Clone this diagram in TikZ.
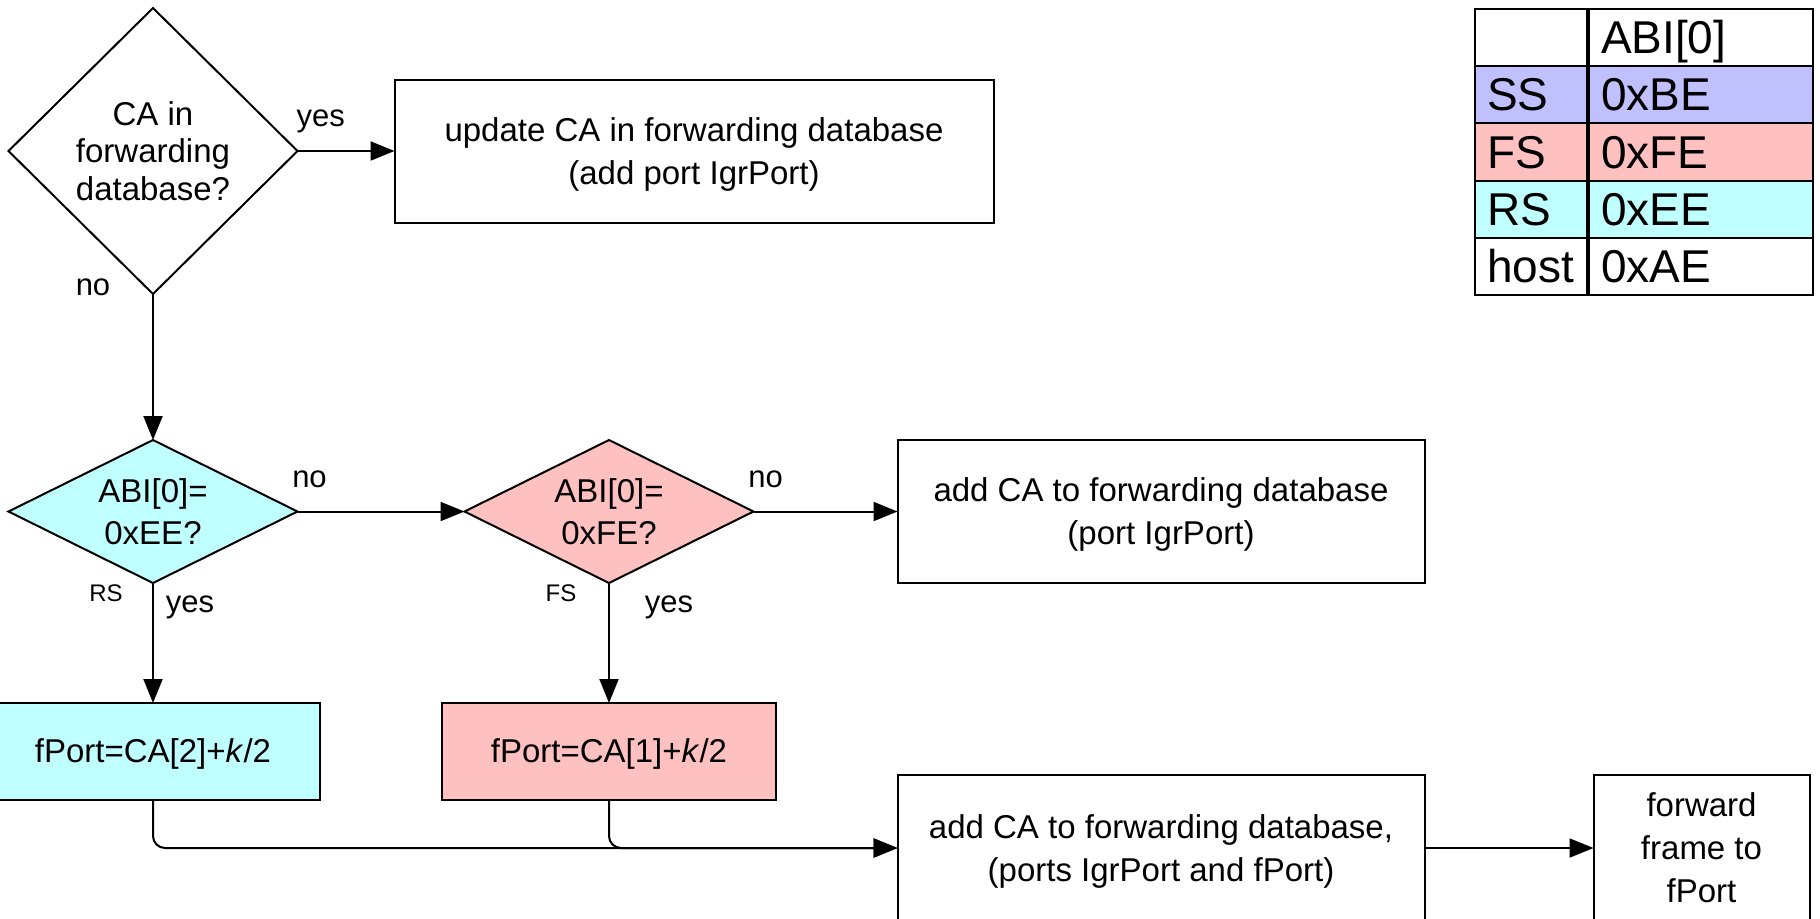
\documentclass[tikz,border=0pt]{standalone}
\usepackage{fontspec}
\setmainfont{Liberation Sans}
\usetikzlibrary{positioning,shapes.geometric,arrows.meta}
\definecolor{ssfill}{RGB}{192,192,255}
\definecolor{fsfill}{RGB}{255,192,192}
\definecolor{rsfill}{RGB}{192,255,255}

\begin{document}
\begin{tikzpicture}[
  x=0.5pt, y=-0.5pt,
  box/.style={draw, line width=1pt, align=center, inner sep=0pt, outer sep=0pt, minimum height=71.5pt, text depth=-2.5pt, font=\fontsize{16.5}{21.5}\selectfont},
  dec/.style={draw, diamond, aspect=2, line width=1pt, align=center, inner sep=0pt, outer sep=0pt, minimum width=144.5pt, minimum height=71.5pt, font=\fontsize{16.5}{21}\selectfont},
  lbl/.style={inner sep=0pt, font=\fontsize{15.5}{18}\selectfont},
  tag/.style={inner sep=0pt, font=\fontsize{12}{14}\selectfont},
  cell/.style={draw, line width=1pt, align=left, inner xsep=6pt, inner ysep=0pt, minimum height=28.6pt, text height=18pt, text depth=2pt, font=\fontsize{23}{26}\selectfont},
  arr/.style={-{Triangle[length=12pt, width=9.5pt]}, line width=1pt}
]
\useasboundingbox (0,0) rectangle (1820,918);
\clip (0,0) rectangle (1820,918);

\node[dec, aspect=1, minimum height=143pt, font=\fontsize{16.5}{18.6}\selectfont] (known) at (153,151) {CA in\\ forwarding\\ database?};
\node[box, minimum width=299.5pt, right=48.5pt of known] (update) {update CA in forwarding database\\ (add port IgrPort)};
\node[dec, fill=rsfill, below=73pt of known] (isrs) {ABI[0]=\\ 0xEE?};
\node[dec, fill=fsfill, right=83.5pt of isrs] (isfs) {ABI[0]=\\ 0xFE?};
\node[box, minimum width=263.5pt, right=72pt of isfs] (addnew) {add CA to forwarding database\\ (port IgrPort)};
\node[box, fill=rsfill, minimum width=167pt, minimum height=48.5pt, text depth=0.5pt, below=60pt of isrs] (rsport) {fPort=CA[2]+\textit{k}/2};
\node[box, fill=fsfill, minimum width=167pt, minimum height=48.5pt, text depth=0.5pt, below=60pt of isfs] (fsport) {fPort=CA[1]+\textit{k}/2};
\node[box, minimum width=263.5pt, minimum height=73pt, below=96pt of addnew] (addboth) {add CA to forwarding database,\\ (ports IgrPort and fPort)};
\node[box, minimum width=108pt, minimum height=73pt, right=84.5pt of addboth] (forward) {forward\\ frame to\\ fPort};

% ABI[0] codes
\foreach \who/\code/\tone [count=\row from 0] in {/ABI[0]/white, SS/0xBE/ssfill, FS/0xFE/fsfill, RS/0xEE/rsfill, host/0xAE/white} {
  \node[cell, fill=\tone, text width=44pt, anchor=north west] (who\row) at (1474,{8+57.2*\row}) {\who};
  \node[cell, fill=\tone, text width=100pt, anchor=north west] (code\row) at (who\row.north east) {\code};
}

\draw[arr] (known.east) -- node[lbl, pos=.24, yshift=15pt] {yes} (update.west);
\draw[arr] (known.south) -- node[lbl, at start, xshift=-30pt, yshift=3.5pt] {no} (isrs.north);
\draw[arr] (isrs.east) -- node[lbl, at start, xshift=6pt, yshift=16pt] {no} (isfs.west);
\draw[arr] (isfs.east) -- node[lbl, at start, xshift=6pt, yshift=16pt] {no} (addnew.west);
\draw[arr] (isrs.south) -- node[tag, at start, xshift=-23.5pt, yshift=-5.25pt] {RS}
  node[lbl, at start, xshift=18.5pt, yshift=-12pt] {yes} (rsport.north);
\draw[arr] (isfs.south) -- node[tag, at start, xshift=-24pt, yshift=-5.25pt] {FS}
  node[lbl, at start, xshift=30pt, yshift=-12pt] {yes} (fsport.north);
\draw[arr, rounded corners=6pt] (rsport.south) |- (addboth.west);
\draw[arr, rounded corners=6pt] (fsport.south) |- (addboth.west);
\draw[arr] (addboth) -- (forward);
\end{tikzpicture}
\end{document}
